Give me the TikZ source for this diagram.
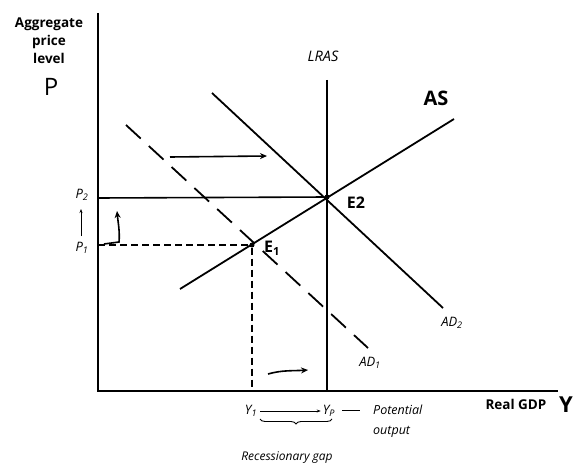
\documentclass[tikz,border=0pt]{standalone}
\usepackage{fontspec}
\setmainfont{Open Sans}
\usetikzlibrary{arrows.meta,decorations.pathreplacing,calc}
\tikzset{
  axisline/.style={line width=2.2pt},
  curve/.style={line width=1.8pt},
  guide/.style={line width=1.3pt, dash pattern=on 7pt off 4pt},
  adone/.style={line width=1.8pt, dash pattern=on 20pt off 11pt},
  shiftarrow/.style={line width=1.6pt, -{Stealth[length=7pt,width=6pt]}},
  thinarrow/.style={line width=0.6pt, -{Stealth[length=4pt,width=3pt]}},
  lab/.style={font=\fontsize{13}{14}\selectfont\itshape, inner sep=0pt},
  boldlab/.style={font=\fontsize{13.5}{18}\selectfont\bfseries, inner sep=0pt, align=center},
  hand/.style={font=\fontsize{20}{20}\selectfont\bfseries, inner sep=0pt},
  dot/.style={circle, fill=black, inner sep=0pt, minimum size=5pt}
}
\begin{document}
\begin{tikzpicture}[x=1pt,y=-1pt]
\useasboundingbox (0,0) rectangle (575,468);
% axes
\coordinate (o) at (98,391);
\coordinate (ytop) at (98,13);
\coordinate (xend) at (558,391);
\draw[axisline] (ytop) -- (o) -- (xend);
\node[boldlab] (ylab) at (49,41) {Aggregate\\price\\level};
\node[hand, font=\fontsize{24}{24}\selectfont] (pbig) at (51,87) {P};
\node[boldlab] (xlab) at (516,404) {Real GDP};
\node[hand, font=\fontsize{22}{22}\selectfont\bfseries] (ybig) at (566,405) {Y};
% equilibrium points
\node[dot] (e2) at (327,197) {};
\node[dot] (e1) at (252,245) {};
% LRAS
\coordinate (lrastop) at (327,80);
\coordinate (lrasbot) at (327,391);
\draw[curve, line width=2pt] (lrastop) -- (lrasbot);
\node[lab, font=\fontsize{14.5}{15}\selectfont\itshape] (lraslab) at (323,56) {LRAS};
% AS
\coordinate (asa) at (180,289);
\coordinate (asb) at (454,119);
\draw[curve] (asa) -- (asb);
\node[hand] (aslab) at (436,98) {AS};
% AD2
\coordinate (ad2a) at (212,93);
\coordinate (ad2b) at (443,308);
\draw[curve] (ad2a) -- (ad2b);
\node[lab] (ad2lab) at (452,323) {AD\textsubscript{2}};
% AD1
\coordinate (ad1a) at (126,125);
\coordinate (ad1b) at (368,348);
\draw[adone] (ad1a) -- (ad1b);
\node[lab] (ad1lab) at (370,363) {AD\textsubscript{1}};
% point labels
\node[hand, font=\fontsize{16}{16}\selectfont\bfseries] (e2lab) at (356,203) {E2};
\node[hand, font=\fontsize{16}{16}\selectfont\bfseries] (e1lab) at (272,248) {E\textsubscript{1}};
% guide lines
\coordinate (p2ax) at (98,198);
\coordinate (p1ax) at (98,245);
\coordinate (y1ax) at (252,391);
\draw[curve, line width=1.6pt] (p2ax) -- (e2);
\draw[guide] (p1ax) -- (e1);
\draw[guide] (e1) -- (y1ax);
% P labels
\node[lab] (p2lab) at (82,195) {P\textsubscript{2}};
\node[lab] (p1lab) at (82,248) {P\textsubscript{1}};
\coordinate (pa1) at (81,236);
\coordinate (pa2) at (81,209);
\draw[thinarrow] (pa1) -- (pa2);
% hand arrows
\coordinate (ca1) at (104,244);
\coordinate (ca2) at (119,242);
\coordinate (ca3) at (117,211);
\draw[shiftarrow] (ca1) -- (ca2) .. controls (120,232) and (118,222) .. (ca3);
\coordinate (ta1) at (170,157);
\coordinate (ta2) at (267,156);
\draw[shiftarrow] (ta1) -- (ta2);
\coordinate (ba1) at (268,374);
\coordinate (ba2) at (308,370);
\draw[shiftarrow] (ba1) .. controls (282,370) and (292,371) .. (ba2);
% Y labels
\node[lab] (y1lab) at (251,411) {Y\textsubscript{1}};
\node[lab] (yplab) at (329,411) {Y\textsubscript{P}};
\draw[thinarrow] ($(y1lab.east)+(3,0)$) -- ($(yplab.west)+(-2,0)$);
\coordinate (da) at (342,410);
\coordinate (db) at (360,410);
\draw[line width=0.9pt] (da) -- (db);
\node[lab, anchor=west, align=left, font=\fontsize{12.5}{20}\selectfont\itshape] (potlab) at (373,421) {Potential\\output};
\coordinate (bra) at (332,419);
\coordinate (brb) at (260,419);
\draw[line width=0.9pt, decorate, decoration={brace, amplitude=5pt}] (bra) -- (brb);
\node[lab, font=\fontsize{12}{13}\selectfont\itshape] (reclab) at (287,458) {Recessionary gap};
\end{tikzpicture}
\end{document}
